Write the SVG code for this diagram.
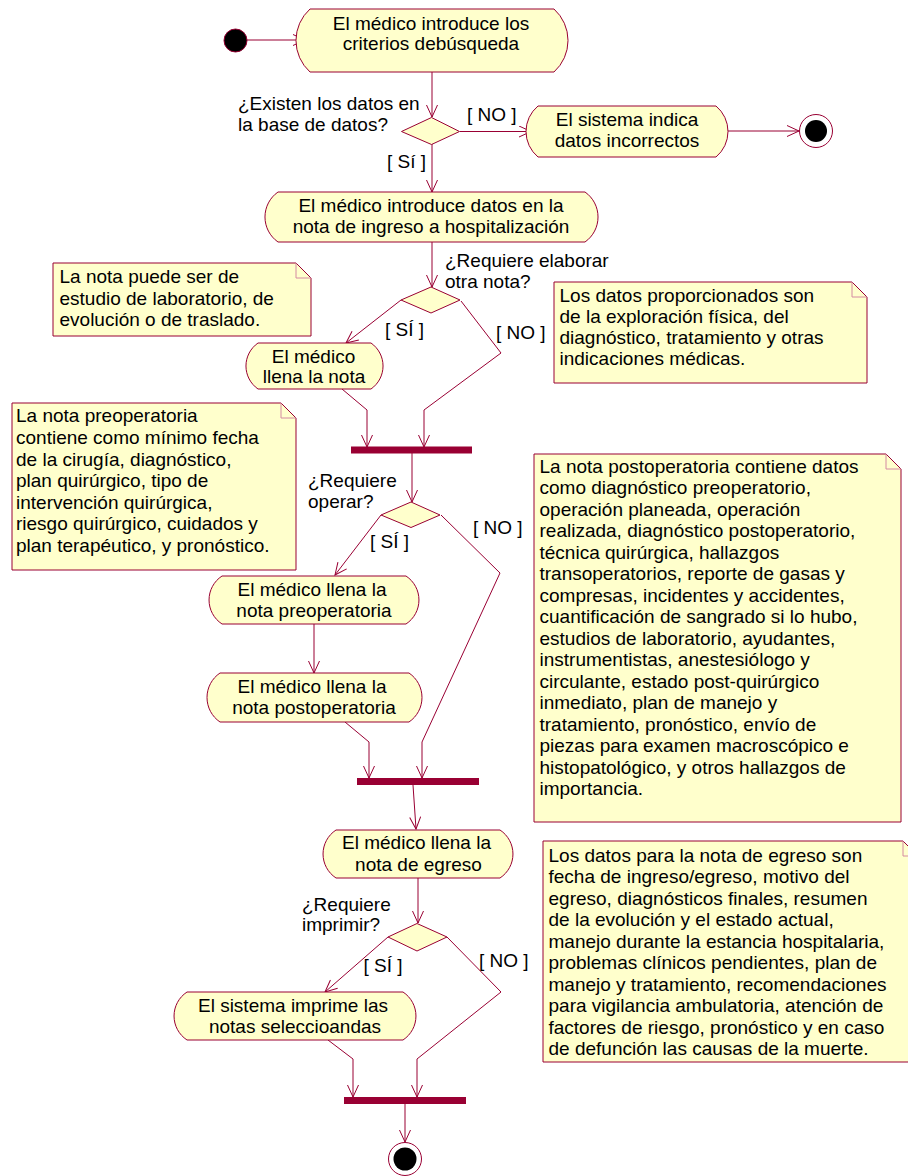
<svg xmlns="http://www.w3.org/2000/svg" width="908" height="1176" viewBox="0 0 908 1176">
<style>
.act{fill:#FFFFCC;stroke:#990033;stroke-width:1}
.note{fill:#FFFFCC;stroke:#990033;stroke-width:1}
.fold{fill:none;stroke:#D48AA2;stroke-width:1}
.dia{fill:#FFFFCC;stroke:#990033;stroke-width:1}
.bar{fill:#990033}
.conn path{fill:none;stroke:#990033;stroke-width:1;marker-end:url(#arr)}
text{font-family:"Liberation Sans",Arial,sans-serif;font-size:19px;fill:#000}
.c{text-anchor:middle}
</style>
<defs>
<marker id="arr" markerUnits="userSpaceOnUse" markerWidth="16" markerHeight="12" viewBox="0 0 16 12" refX="13" refY="6" orient="auto">
<path d="M1,0.5 L13,6 L1,11.5" fill="none" stroke="#990033" stroke-width="1"/>
</marker>
</defs>
<rect width="908" height="1176" fill="#FFFFFF"/>

<g id="connectors" class="conn">
<path d="M247,40 H305"/>
<path d="M432,72 V117"/>
<path d="M460,131.5 H531"/>
<path d="M728,131 H799"/>
<path d="M432,144 V192"/>
<path d="M432,242 V287"/>
<path d="M401,300 L346,343"/>
<path d="M461,301 L501,353 L424,410 V447"/>
<path d="M342,389 L367,410 V447"/>
<path d="M412,453 V502"/>
<path d="M381,515 L335,575"/>
<path d="M441,515 L500,573 L422,742 V778"/>
<path d="M314,624 V673"/>
<path d="M345,722 L369,742 V778"/>
<path d="M413,785 L416,829"/>
<path d="M418,878 V923"/>
<path d="M388,937 L325,992"/>
<path d="M447,937 L501,992 L417,1059 V1097"/>
<path d="M328,1040 L353,1059 V1097"/>
<path d="M405,1104 V1142"/>
</g>

<g id="start">
<circle cx="235.5" cy="40.5" r="11.5" fill="#000" stroke="#990033" stroke-width="1"/>
</g>

<g id="act1">
<path class="act" d="M310,9 H554 A42.4,42.4 0 0 1 554,72 H310 A42.4,42.4 0 0 1 310,9 Z"/>
<text class="c" x="431" y="29.5">El médico introduce los</text>
<text class="c" x="431" y="50">criterios debúsqueda</text>
</g>

<g id="dec1">
<polygon class="dia" points="401.5,131.5 431.5,117.5 459.5,131.5 431.5,144.5"/>
<text x="238" y="110">¿Existen los datos en</text>
<text x="238" y="130.5">la base de datos?</text>
<text x="467" y="120.5">[ NO ]</text>
<text x="387" y="168">[ Sí ]</text>
</g>

<g id="act_error">
<path class="act" d="M538,106 H716 A33.1,33.1 0 0 1 716,157 H538 A33.1,33.1 0 0 1 538,106 Z"/>
<text class="c" x="627" y="126">El sistema indica</text>
<text class="c" x="627" y="147">datos incorrectos</text>
</g>

<g id="end1">
<circle cx="816" cy="131" r="16.5" fill="#FFFFFF" stroke="#990033" stroke-width="1"/>
<circle cx="816" cy="131" r="11" fill="#000"/>
</g>

<g id="act2">
<path class="act" d="M278,192 H585 A30.5,30.5 0 0 1 585,242 H278 A30.5,30.5 0 0 1 278,192 Z"/>
<text class="c" x="431" y="211.5">El médico introduce datos en la</text>
<text class="c" x="431" y="233">nota de ingreso a hospitalización</text>
</g>

<g id="dec2">
<polygon class="dia" points="401,300 431,287 460,300 431,313"/>
<text x="445" y="267">¿Requiere elaborar</text>
<text x="445" y="288">otra nota?</text>
<text x="385" y="335.5">[ SÍ ]</text>
<text x="496" y="338.5">[ NO ]</text>
</g>

<g id="note1">
<path class="note" d="M53,263 H296 L311,278 V336 H53 Z"/>
<path class="fold" d="M296,263 V278 H311"/>
<text x="59.5" y="283.3">La nota puede ser de</text>
<text x="59.5" y="305">estudio de laboratorio, de</text>
<text x="59.5" y="325.7">evolución o de traslado.</text>
</g>

<g id="note2">
<path class="note" d="M554,282 H852 L867,297 V383 H554 Z"/>
<path class="fold" d="M852,282 V297 H867"/>
<text x="559.5" y="301.7">Los datos proporcionados son</text>
<text x="559.5" y="323.3">de la exploración física, del</text>
<text x="559.5" y="344.3">diagnóstico, tratamiento y otras</text>
<text x="559.5" y="365.3">indicaciones médicas.</text>
</g>

<g id="act3">
<path class="act" d="M258,343 H371 A28,28 0 0 1 371,389 H258 A28,28 0 0 1 258,343 Z"/>
<text class="c" x="313.5" y="362.7">El médico</text>
<text class="c" x="314" y="383.3">llena la nota</text>
</g>

<g id="fork1">
<rect class="bar" x="351" y="446.5" width="121" height="7"/>
</g>

<g id="note3">
<path class="note" d="M12,403 H281 L296,418 V570 H12 Z"/>
<path class="fold" d="M281,403 V418 H296"/>
<text x="16" y="422.3">La nota preoperatoria</text>
<text x="16" y="443.9">contiene como mínimo fecha</text>
<text x="16" y="465.5">de la cirugía, diagnóstico,</text>
<text x="16" y="487.1">plan quirúrgico, tipo de</text>
<text x="16" y="508.7">intervención quirúrgica,</text>
<text x="16" y="530.3">riesgo quirúrgico, cuidados y</text>
<text x="16" y="551.9">plan terapéutico, y pronóstico.</text>
</g>

<g id="dec3">
<polygon class="dia" points="381,515 411,502 440,515 411,527.5"/>
<text x="308" y="487">¿Requiere</text>
<text x="308" y="508.3">operar?</text>
<text x="370" y="547.5">[ SÍ ]</text>
<text x="473" y="534">[ NO ]</text>
</g>

<g id="note4">
<path class="note" d="M534,454 H886 L901,469 V822 H534 Z"/>
<path class="fold" d="M886,454 V469 H901"/>
<text x="539.5" y="472.7">La nota postoperatoria contiene datos</text>
<text x="539.5" y="494.2">como diagnóstico preoperatorio,</text>
<text x="539.5" y="515.7">operación planeada, operación</text>
<text x="539.5" y="537.2">realizada, diagnóstico postoperatorio,</text>
<text x="539.5" y="558.7">técnica quirúrgica, hallazgos</text>
<text x="539.5" y="580.2">transoperatorios, reporte de gasas y</text>
<text x="539.5" y="601.7">compresas, incidentes y accidentes,</text>
<text x="539.5" y="623.2">cuantificación de sangrado si lo hubo,</text>
<text x="539.5" y="644.7">estudios de laboratorio, ayudantes,</text>
<text x="539.5" y="666.2">instrumentistas, anestesiólogo y</text>
<text x="539.5" y="687.7">circulante, estado post-quirúrgico</text>
<text x="539.5" y="709.2">inmediato, plan de manejo y</text>
<text x="539.5" y="730.7">tratamiento, pronóstico, envío de</text>
<text x="539.5" y="752.2">piezas para examen macroscópico e</text>
<text x="539.5" y="773.7">histopatológico, y otros hallazgos de</text>
<text x="539.5" y="795.2">importancia.</text>
</g>

<g id="act4">
<path class="act" d="M222,576 H406 A28.7,28.7 0 0 1 406,624 H222 A28.7,28.7 0 0 1 222,576 Z"/>
<text class="c" x="312" y="595.7">El médico llena la</text>
<text class="c" x="314" y="616.7">nota preoperatoria</text>
</g>

<g id="act5">
<path class="act" d="M220,673 H409 A29.6,29.6 0 0 1 409,722 H220 A29.6,29.6 0 0 1 220,673 Z"/>
<text class="c" x="312" y="692.7">El médico llena la</text>
<text class="c" x="314" y="714">nota postoperatoria</text>
</g>

<g id="fork2">
<rect class="bar" x="357" y="778" width="122" height="7"/>
</g>

<g id="act6">
<path class="act" d="M336,830 H500 A28.7,28.7 0 0 1 500,878 H336 A28.7,28.7 0 0 1 336,830 Z"/>
<text class="c" x="416.5" y="849">El médico llena la</text>
<text class="c" x="418.5" y="870.7">nota de egreso</text>
</g>

<g id="note5">
<path class="note" d="M543,841 H903 L918,856 V1062 H543 Z"/>
<path class="fold" d="M903,841 V856 H918"/>
<text x="548.5" y="861.7">Los datos para la nota de egreso son</text>
<text x="548.5" y="883.2">fecha de ingreso/egreso, motivo del</text>
<text x="548.5" y="904.7">egreso, diagnósticos finales, resumen</text>
<text x="548.5" y="926.2">de la evolución y el estado actual,</text>
<text x="548.5" y="947.7">manejo durante la estancia hospitalaria,</text>
<text x="548.5" y="969.2">problemas clínicos pendientes, plan de</text>
<text x="548.5" y="990.7">manejo y tratamiento, recomendaciones</text>
<text x="548.5" y="1012.2">para vigilancia ambulatoria, atención de</text>
<text x="548.5" y="1033.7">factores de riesgo, pronóstico y en caso</text>
<text x="548.5" y="1055.2">de defunción las causas de la muerte.</text>
</g>

<g id="dec4">
<polygon class="dia" points="388,937 417,923.5 447,937 417,951"/>
<text x="302" y="910.7">¿Requiere</text>
<text x="302" y="930.7">imprimir?</text>
<text x="363.5" y="972">[ SÍ ]</text>
<text x="479" y="966.7">[ NO ]</text>
</g>

<g id="act7">
<path class="act" d="M187,992 H403 A28.7,28.7 0 0 1 403,1040 H187 A28.7,28.7 0 0 1 187,992 Z"/>
<text class="c" x="293" y="1012.3">El sistema imprime las</text>
<text class="c" x="295" y="1032.7">notas seleccioandas</text>
</g>

<g id="fork3">
<rect class="bar" x="344" y="1097" width="122" height="7"/>
</g>

<g id="end2">
<circle cx="405" cy="1159" r="16.5" fill="#FFFFFF" stroke="#990033" stroke-width="1"/>
<circle cx="405" cy="1159" r="11.5" fill="#000"/>
</g>
</svg>
